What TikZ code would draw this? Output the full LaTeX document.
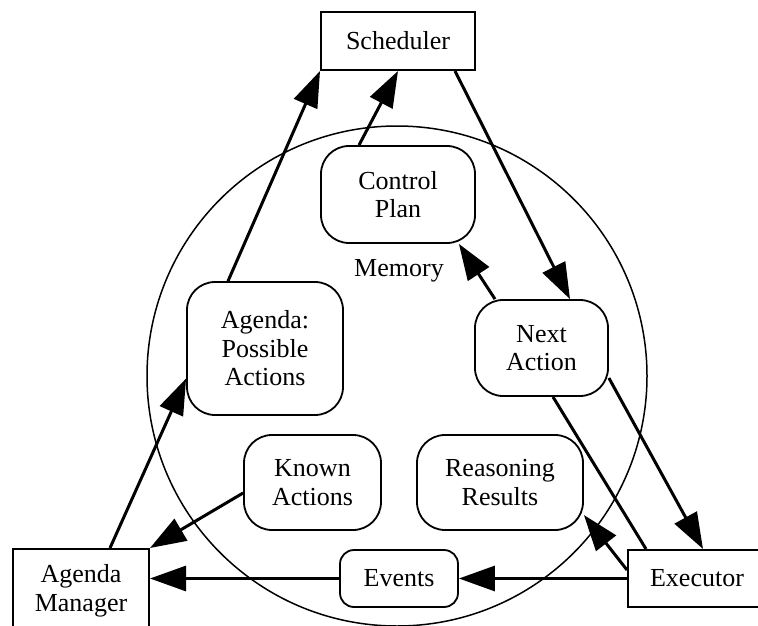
\documentclass[tikz,border=0pt]{standalone}
\usepackage{fontspec}
\setmainfont{Liberation Serif}
\usetikzlibrary{arrows.meta}
\begin{document}
\begin{tikzpicture}[x=1pt,y=-1pt,
  lbl/.style={font=\fontsize{26}{28.5}\selectfont, align=center},
  sqbox/.style={lbl, draw, line width=2pt, fill=white, inner sep=0pt},
  rbox/.style={lbl, draw, line width=1.8pt, fill=white, inner sep=0pt, rounded corners=28pt},
  flow/.style={line width=3pt, -{Triangle[length=36pt,width=25pt]}},
  plain/.style={line width=3pt}]
\useasboundingbox (0,0) rectangle (758,626);
\begin{scope}
\clip (0,0) rectangle (758,626);
% memory boundary
\draw[line width=1.5pt] (397,376) circle[radius=250];
\node[lbl] (mem) at (399,271) {Memory};

% processes around the memory
\node[sqbox, minimum width=154pt, minimum height=58pt] (sched) at (398,41) {Scheduler};
\node[sqbox, minimum width=136pt, minimum height=84pt] (am) at (81,591) {Agenda\\Manager};
\node[sqbox, minimum width=138pt, minimum height=57pt] (exec) at (697,578.5) {Executor};

% memory contents
\node[rbox, minimum width=154pt, minimum height=97pt] (ctrl) at (398,194.5) {Control\\Plan};
\node[rbox, minimum width=156pt, minimum height=133pt] (agenda) at (265,348.5) {Agenda:\\Possible\\Actions};
\node[rbox, minimum width=133pt, minimum height=96pt] (next) at (541.5,348) {Next\\Action};
\node[rbox, minimum width=137pt, minimum height=95pt] (known) at (312.5,482.5) {Known\\Actions};
\node[rbox, minimum width=166pt, minimum height=95pt] (reason) at (500,482.5) {Reasoning\\Results};
\node[rbox, rounded corners=14pt, minimum width=118pt, minimum height=57pt] (events) at (399,578.5) {Events};

% connectors
\draw[flow] ([xshift=29pt]am.north) -- ([yshift=-30pt]agenda.west);
\draw[flow] ([xshift=-37pt]agenda.north) -- (sched.south west);
\draw[flow] ([xshift=-39pt]ctrl.north) -- (sched.south);
\draw[flow] ([xshift=57pt]sched.south) -- ([xshift=28.5pt]next.north);
\draw[flow] ([xshift=-46.5pt]next.north) -- ([xshift=-17pt]ctrl.south east);
\draw[flow] ([yshift=-30pt]next.east) -- ([xshift=6pt]exec.north);
\draw[plain] ([xshift=11.5pt]next.south) -- ([xshift=19pt]exec.north west);
\draw[flow] ([yshift=8.5pt]exec.west) -- ([yshift=-32.5pt]reason.east);
\draw[flow] (exec.west) -- (events.east);
\draw[flow] (events.west) -- ([yshift=12.5pt]am.east);
\draw[flow] ([yshift=-10.5pt]known.west) -- (am.north east);
\end{scope}
\end{tikzpicture}
\end{document}
